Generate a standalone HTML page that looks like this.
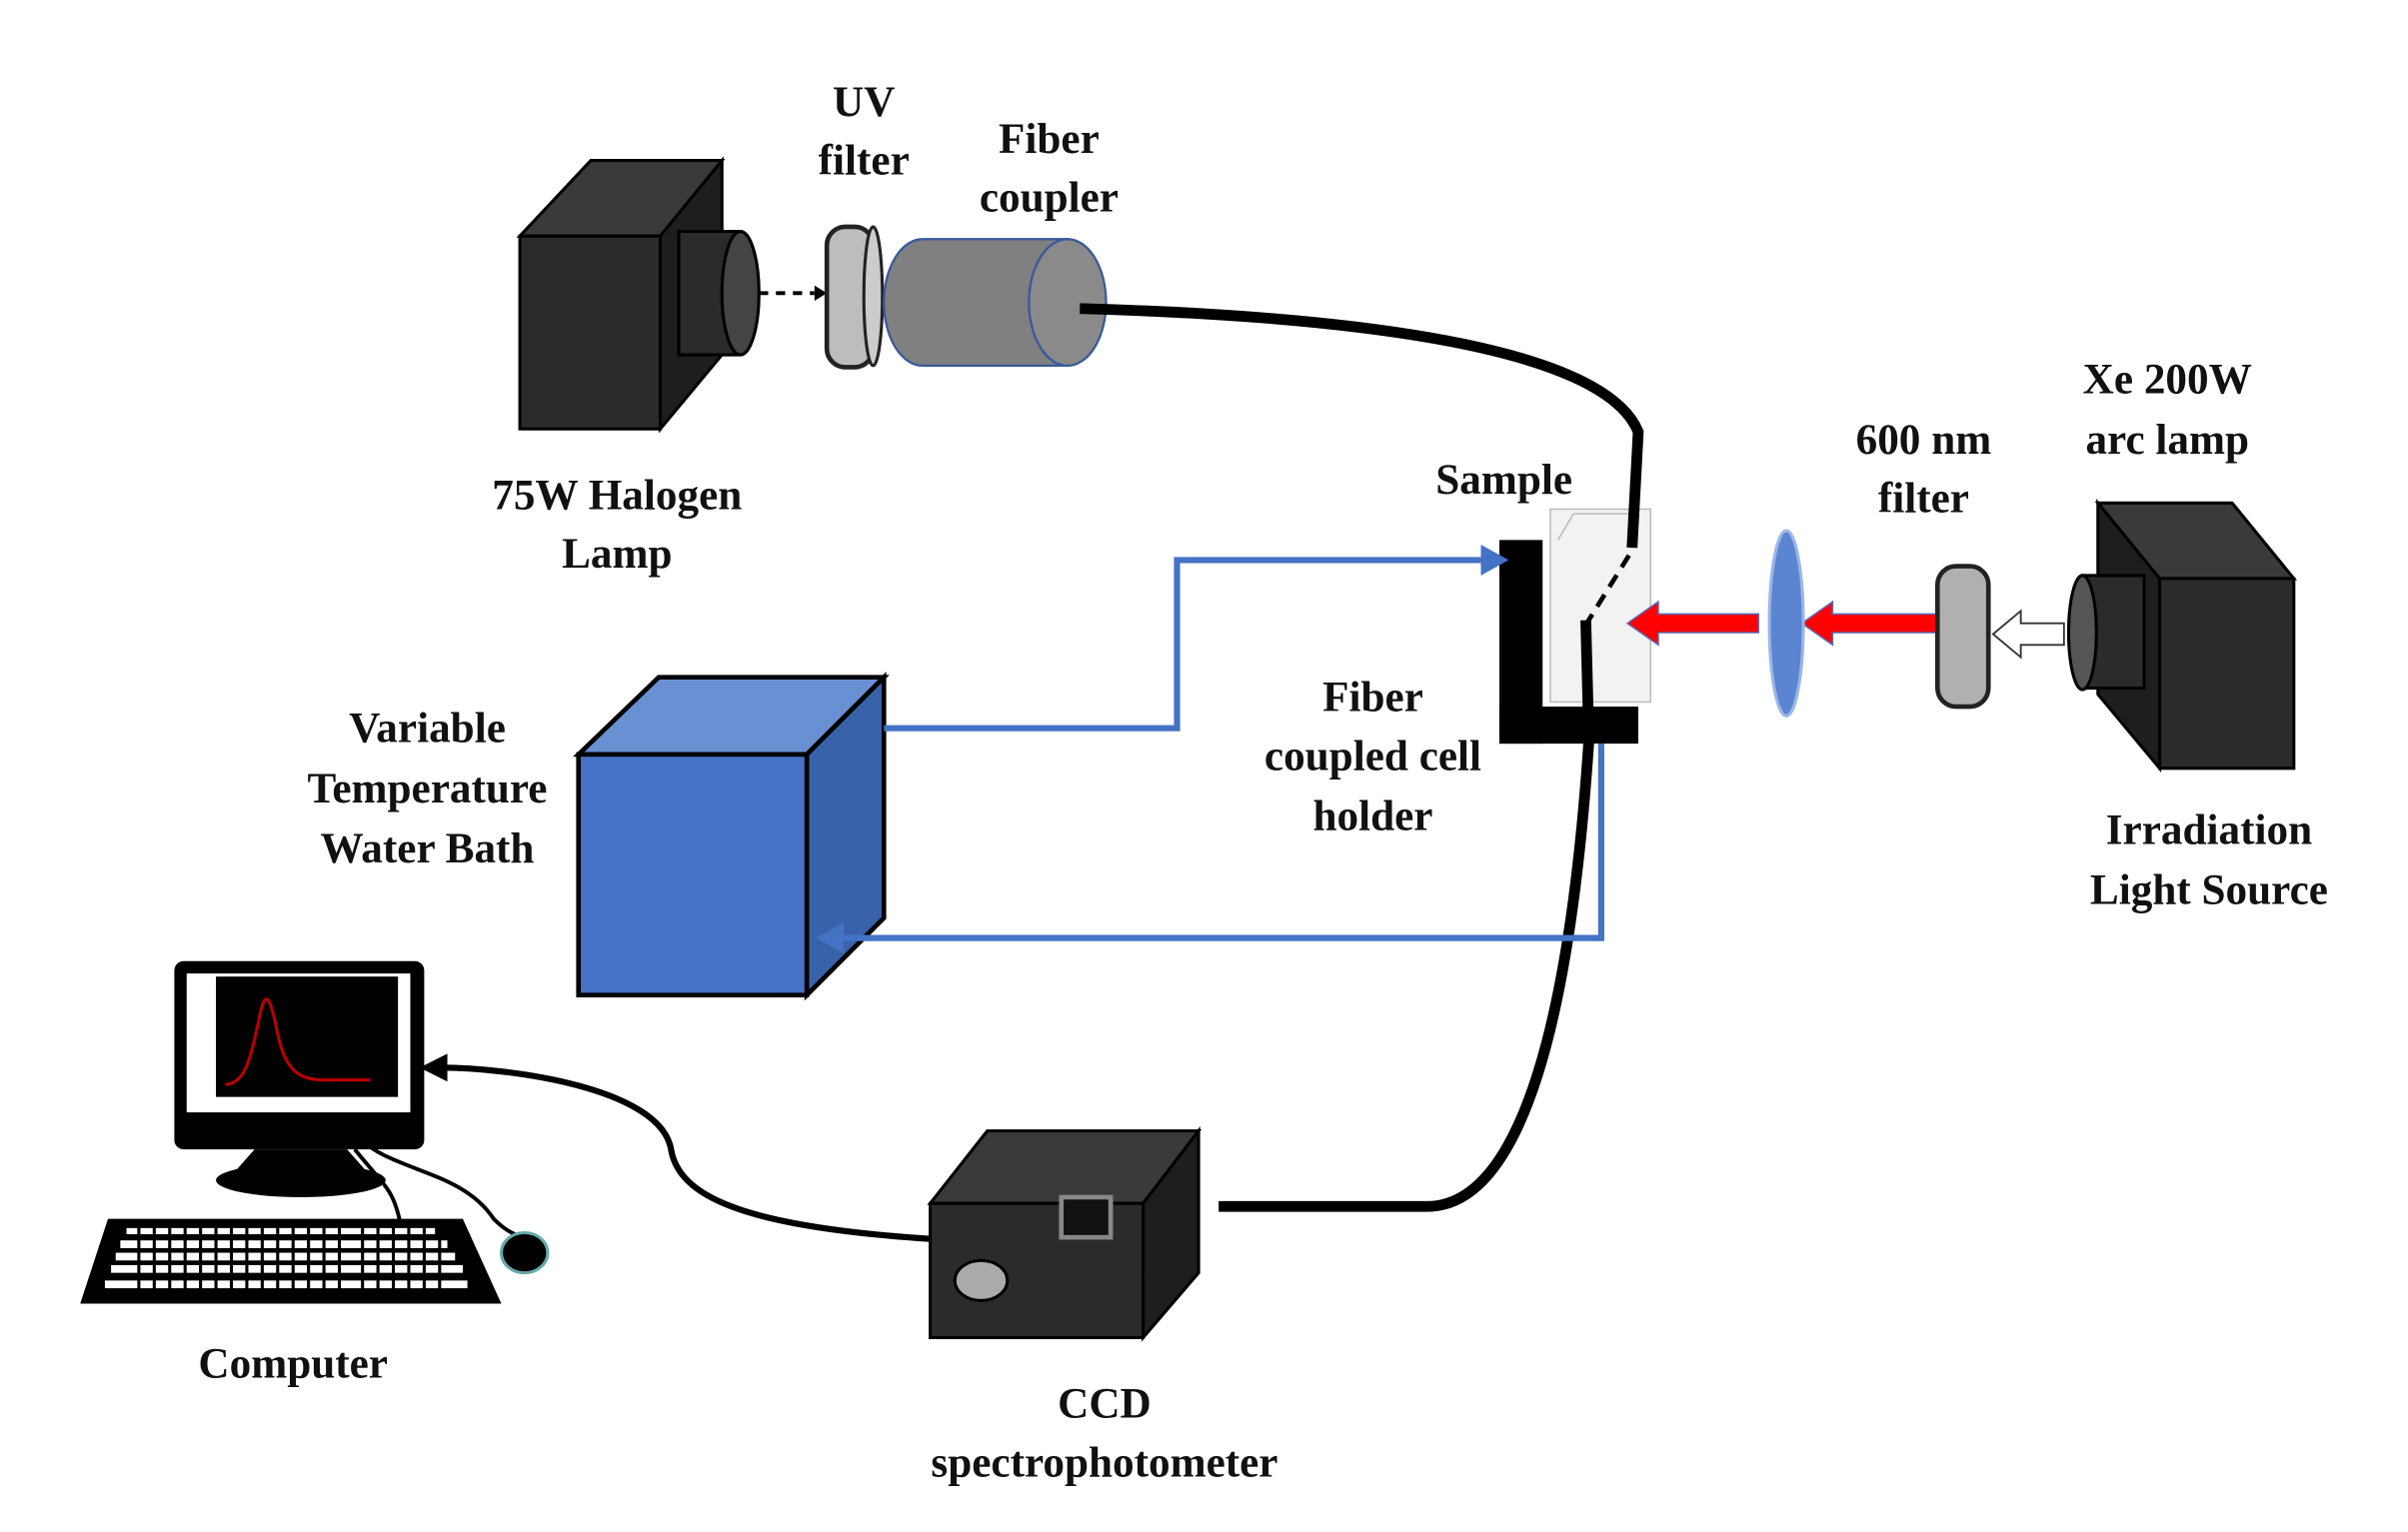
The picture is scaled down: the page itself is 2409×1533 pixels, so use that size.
<!DOCTYPE html>
<html><head><style>html,body{margin:0;padding:0;background:#fff;}svg{display:block}
text{font-family:"Liberation Serif",serif;font-weight:bold;font-size:28px;fill:#111;text-anchor:middle}</style></head>
<body>
<svg width="2409" height="1533" viewBox="0 0 1561 993" preserveAspectRatio="none" xmlns="http://www.w3.org/2000/svg">
<!-- Halogen lamp -->
<polygon points="337,153 383,104 468,104 428,153" fill="#3a3a3a" stroke="#000" stroke-width="2"/>
<polygon points="428,153 468,104 468,230 428,278" fill="#1e1e1e" stroke="#000" stroke-width="2"/>
<rect x="337" y="153" width="91" height="125" fill="#2b2b2b" stroke="#000" stroke-width="2"/>
<rect x="440" y="150" width="40" height="80" fill="#2b2b2b" stroke="#000" stroke-width="2"/>
<ellipse cx="480" cy="190" rx="12" ry="40" fill="#444" stroke="#000" stroke-width="2"/>
<line x1="492" y1="190" x2="528" y2="190" stroke="#000" stroke-width="2.5" stroke-dasharray="6,5"/>
<path d="M528,185 L536,190 L528,195z" fill="#000"/>
<!-- UV filter -->
<rect x="536" y="147" width="30" height="91" rx="12" fill="#bdbdbd" stroke="#222" stroke-width="3"/>
<ellipse cx="566" cy="192" rx="6" ry="45" fill="#ccc" stroke="#222" stroke-width="2"/>
<!-- Fiber coupler -->
<path d="M598,155 L692,155 L692,237 L598,237 A25,41 0 0 1 598,155z" fill="#808080" stroke="#3a5a9a" stroke-width="1.5"/>
<ellipse cx="692" cy="196" rx="25" ry="41" fill="#8a8a8a" stroke="#3a5a9a" stroke-width="1.5"/>
<!-- Sample cuvette -->
<rect x="1005" y="330" width="65" height="125" fill="#f2f2f2" stroke="#bbb" stroke-width="1"/>
<polyline points="1010,350 1020,333 1060,333" fill="none" stroke="#bbb"/>
<path d="M700,200 C880,205 1040,225 1062,280 L1058,355" fill="none" stroke="#000" stroke-width="7"/>
<line x1="1056" y1="360" x2="1028" y2="405" stroke="#000" stroke-width="3" stroke-dasharray="9,6"/>
<!-- cell holder -->
<rect x="972" y="350" width="28" height="132" fill="#000"/>
<rect x="972" y="458" width="90" height="24" fill="#000"/>
<path d="M1028,402 L1030,480 C1022,600 1000,782 925,782 L790,782" fill="none" stroke="#000" stroke-width="7"/>
<!-- red arrows -->
<path d="M1140,398 L1075,398 L1075,390 L1055,404 L1075,418 L1075,410 L1140,410z" fill="#f00" stroke="#5a6ab0" stroke-width="1"/>
<path d="M1256,398 L1188,398 L1188,390 L1168,404 L1188,418 L1188,410 L1256,410z" fill="#f00" stroke="#5a6ab0" stroke-width="1"/>
<ellipse cx="1158" cy="404" rx="11" ry="60" fill="#5b85d0" stroke="#9ab6e8" stroke-width="2"/>
<!-- 600 filter -->
<rect x="1256" y="367" width="33" height="91" rx="12" fill="#b0b0b0" stroke="#222" stroke-width="3"/>
<path d="M1338,404 L1310,404 L1310,396 L1292,411 L1310,426 L1310,418 L1338,418z" fill="#fff" stroke="#333" stroke-width="1.2"/>
<!-- Xe lamp -->
<polygon points="1360,326 1447,326 1487,375 1400,375" fill="#3a3a3a" stroke="#000" stroke-width="2"/>
<polygon points="1360,326 1400,375 1400,498 1360,450" fill="#1e1e1e" stroke="#000" stroke-width="2"/>
<rect x="1400" y="375" width="87" height="123" fill="#2b2b2b" stroke="#000" stroke-width="2"/>
<rect x="1350" y="373" width="40" height="73" fill="#2b2b2b" stroke="#000" stroke-width="2"/>
<ellipse cx="1350" cy="410" rx="9" ry="37" fill="#555" stroke="#000" stroke-width="2"/>
<!-- Water bath -->
<polygon points="375,489 427,439 573,439 523,489" fill="#6a90d4" stroke="#000" stroke-width="3"/>
<polygon points="523,489 573,439 573,595 523,645" fill="#3a62aa" stroke="#000" stroke-width="3"/>
<rect x="375" y="489" width="148" height="156" fill="#4472c4" stroke="#000" stroke-width="3"/>
<!-- blue loop -->
<polyline points="573,472 763,472 763,363 968,363" fill="none" stroke="#4472c4" stroke-width="4"/>
<path d="M960,353 L978,363 L960,373z" fill="#4472c4"/>
<polyline points="1038,482 1038,608 545,608" fill="none" stroke="#4472c4" stroke-width="4"/>
<path d="M547,598 L529,608 L547,618z" fill="#4472c4"/>
<!-- CCD -->
<polygon points="603,780 640,733 777,733 741,780" fill="#3a3a3a" stroke="#000" stroke-width="2"/>
<polygon points="741,780 777,733 777,825 741,867" fill="#1e1e1e" stroke="#000" stroke-width="2"/>
<rect x="603" y="780" width="138" height="87" fill="#2b2b2b" stroke="#000" stroke-width="2"/>
<rect x="688" y="776" width="32" height="26" fill="#111" stroke="#888" stroke-width="3"/>
<ellipse cx="636" cy="830" rx="17" ry="13" fill="#aaa" stroke="#000" stroke-width="2"/>
<!-- cable to computer -->
<path d="M603,803 C480,795 440,775 435,745 C428,705 330,692 285,692" fill="none" stroke="#000" stroke-width="4"/>
<path d="M290,683 L272,692 L290,701z" fill="#000"/>
<!-- Computer -->
<rect x="113" y="623" width="162" height="122" rx="6" fill="#000"/>
<rect x="121" y="631" width="145" height="90" fill="#fff"/>
<rect x="140" y="633" width="118" height="78" fill="#000"/>
<path d="M146,703 C158,702 162,690 168,660 C172,640 175,645 180,670 C185,695 195,700 210,700 L240,700" fill="none" stroke="#b00" stroke-width="2"/>
<path d="M165,745 L225,745 L240,762 L150,762z" fill="#000"/>
<ellipse cx="195" cy="765" rx="55" ry="11" fill="#000"/>
<path d="M235,740 C260,760 300,760 320,790 C330,800 335,800 338,802" fill="none" stroke="#000" stroke-width="2.5"/>
<path d="M230,745 C250,770 255,770 260,795" fill="none" stroke="#000" stroke-width="2.5"/>
<polygon points="70,790 300,790 325,845 52,845" fill="#000"/>
<g fill="#fff">
<rect x="82" y="796" width="200" height="4"/>
<rect x="78" y="804" width="212" height="5"/>
<rect x="75" y="812" width="220" height="5"/>
<rect x="72" y="820" width="228" height="5"/>
<rect x="68" y="830" width="235" height="5"/>
</g>
<g stroke="#000" stroke-width="2">
<path d="M90,794 V838 M100,794 V838 M110,794 V838 M120,794 V838 M130,794 V838 M140,794 V838 M150,794 V838 M160,794 V838 M170,794 V838 M180,794 V838 M190,794 V838 M200,794 V838 M210,794 V838 M220,794 V838 M235,794 V838 M245,794 V838 M255,794 V838 M265,794 V838 M275,794 V838 M285,794 V838"/>
</g>
<ellipse cx="340" cy="812" rx="15" ry="13" fill="#000" stroke="#6aa" stroke-width="2"/>
<!-- labels -->
<text x="560" y="75">UV</text>
<text x="560" y="113">filter</text>
<text x="680" y="99">Fiber</text>
<text x="680" y="137">coupler</text>
<text x="400" y="330">75W Halogen</text>
<text x="400" y="368">Lamp</text>
<text x="1405" y="255">Xe 200W</text>
<text x="1405" y="294">arc lamp</text>
<text x="1247" y="294">600 nm</text>
<text x="1247" y="332">filter</text>
<text x="975" y="320">Sample</text>
<text x="890" y="461">Fiber</text>
<text x="890" y="499">coupled cell</text>
<text x="890" y="538">holder</text>
<text x="1432" y="547">Irradiation</text>
<text x="1432" y="586">Light Source</text>
<text x="277" y="481">Variable</text>
<text x="277" y="520">Temperature</text>
<text x="277" y="559">Water Bath</text>
<text x="190" y="893">Computer</text>
<text x="716" y="919">CCD</text>
<text x="716" y="957">spectrophotometer</text>
</svg>
</body></html>
